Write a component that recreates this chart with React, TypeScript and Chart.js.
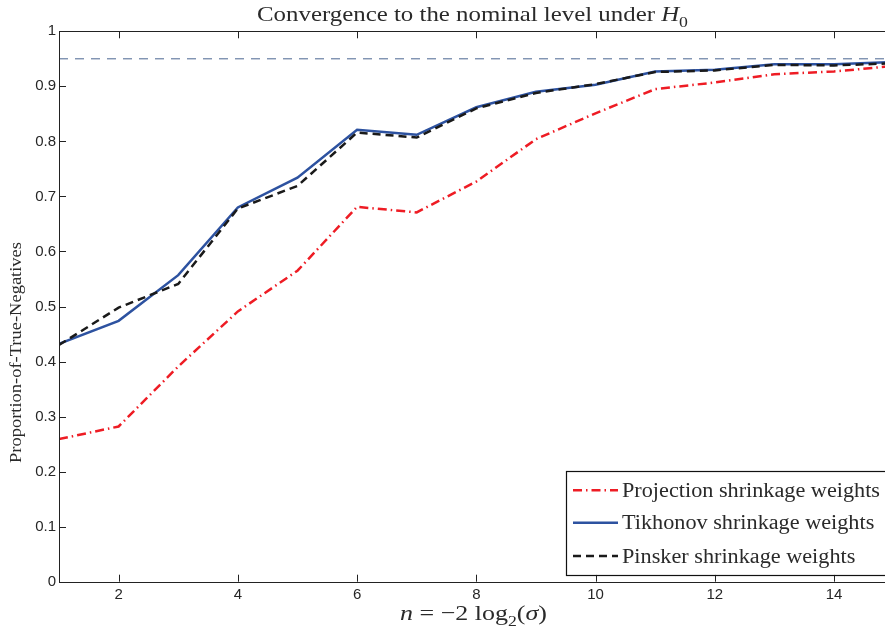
import React, { useEffect, useRef } from 'react';
import { Chart, registerables } from 'chart.js';

Chart.register(...registerables);

const nValues = [1, 2, 3, 4, 5, 6, 7, 8, 9, 10, 11, 12, 13, 14, 15];
const projection = [0.259, 0.282, 0.391, 0.491, 0.565, 0.681, 0.671, 0.727, 0.804, 0.851, 0.895, 0.907, 0.922, 0.927, 0.937];
const tikhonov = [0.432, 0.474, 0.557, 0.680, 0.734, 0.821, 0.812, 0.862, 0.890, 0.903, 0.927, 0.930, 0.940, 0.940, 0.944];
const pinsker = [0.430, 0.498, 0.541, 0.678, 0.719, 0.816, 0.807, 0.860, 0.888, 0.904, 0.926, 0.929, 0.939, 0.938, 0.942];
const nominalLevel = 0.95;
const xTicks = [2, 4, 6, 8, 10, 12, 14];
const yTicks = [0, 0.1, 0.2, 0.3, 0.4, 0.5, 0.6, 0.7, 0.8, 0.9, 1];
const seriesLabels = ['Projection shrinkage weights', 'Tikhonov shrinkage weights', 'Pinsker shrinkage weights'];
const titleText = 'Convergence to the nominal level under ';
const yLabelText = 'Proportion-of-True-Negatives';

const RED = '#ee1c24';
const BLUE = '#2d52a0';
const BLACK = '#1a1a1a';
const NOMINAL = '#4a6591';
const SERIF = '"Liberation Serif", "Times New Roman", serif';
const SANS = '"Liberation Sans", Arial, Helvetica, sans-serif';

type Seg = { t: string; italic?: boolean; sub?: boolean };

function drawRich(ctx: CanvasRenderingContext2D, segs: Seg[], size: number, x0: number, baseline: number, targetW: number, align: 'center' | 'left' = 'center') {
  const fontOf = (s: Seg) => `${s.italic ? 'italic ' : ''}${s.sub ? Math.round(size * 0.7) : size}px ${SERIF}`;
  let w = 0;
  for (const s of segs) { ctx.font = fontOf(s); w += ctx.measureText(s.t).width; }
  const k = targetW / w;
  ctx.save();
  ctx.translate(align === 'center' ? x0 - targetW / 2 : x0, baseline);
  ctx.scale(k, 1);
  ctx.textAlign = 'left';
  ctx.textBaseline = 'alphabetic';
  let xx = 0;
  for (const s of segs) {
    ctx.font = fontOf(s);
    ctx.fillText(s.t, xx, s.sub ? size * 0.28 : 0);
    xx += ctx.measureText(s.t).width;
  }
  ctx.restore();
}

const decorPlugin = {
  id: 'decor',
  afterDraw(chart: any) {
    const { ctx, chartArea: a, scales } = chart;
    const x = scales.x, y = scales.y;
    ctx.save();
    ctx.strokeStyle = '#222';
    ctx.lineWidth = 1;
    ctx.setLineDash([]);
    // frame
    ctx.beginPath();
    ctx.moveTo(Math.round(a.left) + 0.5, Math.round(a.top) + 0.5);
    ctx.lineTo(Math.round(a.right) + 0.5, Math.round(a.top) + 0.5);
    ctx.lineTo(Math.round(a.right) + 0.5, Math.round(a.bottom) + 0.5);
    ctx.lineTo(Math.round(a.left) + 0.5, Math.round(a.bottom) + 0.5);
    ctx.closePath();
    ctx.stroke();
    // inner ticks
    ctx.beginPath();
    for (const v of xTicks) {
      const px = Math.round(x.getPixelForValue(v)) + 0.5;
      ctx.moveTo(px, a.bottom); ctx.lineTo(px, a.bottom - 7);
      ctx.moveTo(px, a.top); ctx.lineTo(px, a.top + 7);
    }
    for (const v of yTicks) {
      const py = Math.round(y.getPixelForValue(v)) + 0.5;
      ctx.moveTo(a.left, py); ctx.lineTo(a.left + 7, py);
      ctx.moveTo(a.right, py); ctx.lineTo(a.right - 7, py);
    }
    ctx.stroke();

    // legend
    const lx = a.left + 507, ly = a.bottom - 111, lr = a.right - 4, lb = a.bottom - 7;
    ctx.fillStyle = '#fff';
    ctx.fillRect(lx, ly, lr - lx, lb - ly);
    ctx.strokeStyle = '#111';
    ctx.lineWidth = 1.2;
    ctx.strokeRect(Math.round(lx) + 0.5, Math.round(ly) + 0.5, Math.round(lr - lx), Math.round(lb - ly));
    const styles = [
      { c: RED, d: [9, 4, 1.5, 4] },
      { c: BLUE, d: [] as number[] },
      { c: BLACK, d: [8, 5] },
    ];
    const rowY = [ly + 19.5, ly + 52, ly + 85.3];
    ctx.font = `20px ${SERIF}`;
    const k = 258 / ctx.measureText(seriesLabels[0]).width;
    seriesLabels.forEach((lab, i) => {
      ctx.save();
      ctx.strokeStyle = styles[i].c;
      ctx.lineWidth = 2.5;
      ctx.setLineDash(styles[i].d);
      ctx.beginPath();
      ctx.moveTo(lx + 7, rowY[i]);
      ctx.lineTo(lx + 52, rowY[i]);
      ctx.stroke();
      ctx.restore();
      ctx.save();
      ctx.fillStyle = '#2a2a2a';
      ctx.font = `20px ${SERIF}`;
      ctx.textBaseline = 'alphabetic';
      ctx.translate(lx + 56, rowY[i] + 6.7);
      ctx.scale(k, 1);
      ctx.fillText(lab, 0, 0);
      ctx.restore();
    });

    // title
    ctx.fillStyle = '#2a2a2a';
    drawRich(ctx, [{ t: titleText }, { t: 'H', italic: true }, { t: '0', sub: true }], 21, 472.5, 20.7, 431);
    // x label
    drawRich(ctx, [
      { t: 'n', italic: true }, { t: ' = \u22122 log' }, { t: '2', sub: true }, { t: '(' }, { t: '\u03c3', italic: true }, { t: ')' },
    ], 22, 473.5, 620, 147);
    // y label
    ctx.save();
    ctx.translate(20.5, 352.5);
    ctx.rotate(-Math.PI / 2);
    drawRich(ctx, [{ t: yLabelText }], 16, 0, 0, 221);
    ctx.restore();
    ctx.restore();
  },
};

export default function App() {
  const ref = useRef<HTMLCanvasElement>(null);
  useEffect(() => {
    if (!ref.current) return;
    const pts = (arr: number[]) => nValues.map((n, i) => ({ x: n, y: arr[i] }));
    const chart = new Chart(ref.current, {
      type: 'line',
      data: {
        datasets: [
          { label: seriesLabels[2], data: pts(pinsker), borderColor: BLACK, borderWidth: 2.5, borderDash: [8, 5], pointRadius: 0, tension: 0, order: 0 },
          { label: seriesLabels[1], data: pts(tikhonov), borderColor: BLUE, borderWidth: 2.5, pointRadius: 0, tension: 0, order: 1 },
          { label: seriesLabels[0], data: pts(projection), borderColor: RED, borderWidth: 2.5, borderDash: [9, 4, 1.5, 4], pointRadius: 0, tension: 0, order: 2 },
          { label: 'nominal', data: [{ x: nValues[0], y: nominalLevel }, { x: nValues[nValues.length - 1], y: nominalLevel }], borderColor: NOMINAL, borderWidth: 1, borderDash: [9, 7], pointRadius: 0, order: 3 },
        ],
      },
      options: {
        animation: false,
        responsive: false,
        devicePixelRatio: 1,
        layout: { padding: { top: 31.3, right: 6.4, left: 0, bottom: 0 } },
        plugins: { legend: { display: false }, title: { display: false }, tooltip: { enabled: false } },
        scales: {
          x: {
            type: 'linear',
            min: 1,
            max: 15,
            grid: { display: false },
            border: { display: false },
            afterBuildTicks: (s: any) => { s.ticks = xTicks.map((v) => ({ value: v })); },
            afterFit: (s: any) => { s.height = 55.3; },
            ticks: { font: { family: SANS, size: 15 }, color: '#262626', padding: -4, maxRotation: 0, autoSkip: false },
          },
          y: {
            type: 'linear',
            min: 0,
            max: 1,
            grid: { display: false },
            border: { display: false },
            afterBuildTicks: (s: any) => { s.ticks = yTicks.map((v) => ({ value: v })); },
            afterFit: (s: any) => { s.width = 59; },
            ticks: { font: { family: SANS, size: 15 }, color: '#262626', padding: -5, autoSkip: false, callback: (v: any) => String(Math.round(Number(v) * 10) / 10) },
          },
        },
      },
      plugins: [decorPlugin],
    });
    return () => chart.destroy();
  }, []);
  return (
    <div style={{ position: 'absolute', left: 0, top: 0, width: 885, height: 637, overflow: 'hidden', background: '#fff' }}>
      <canvas ref={ref} width={900} height={637} style={{ display: 'block' }} />
    </div>
  );
}
